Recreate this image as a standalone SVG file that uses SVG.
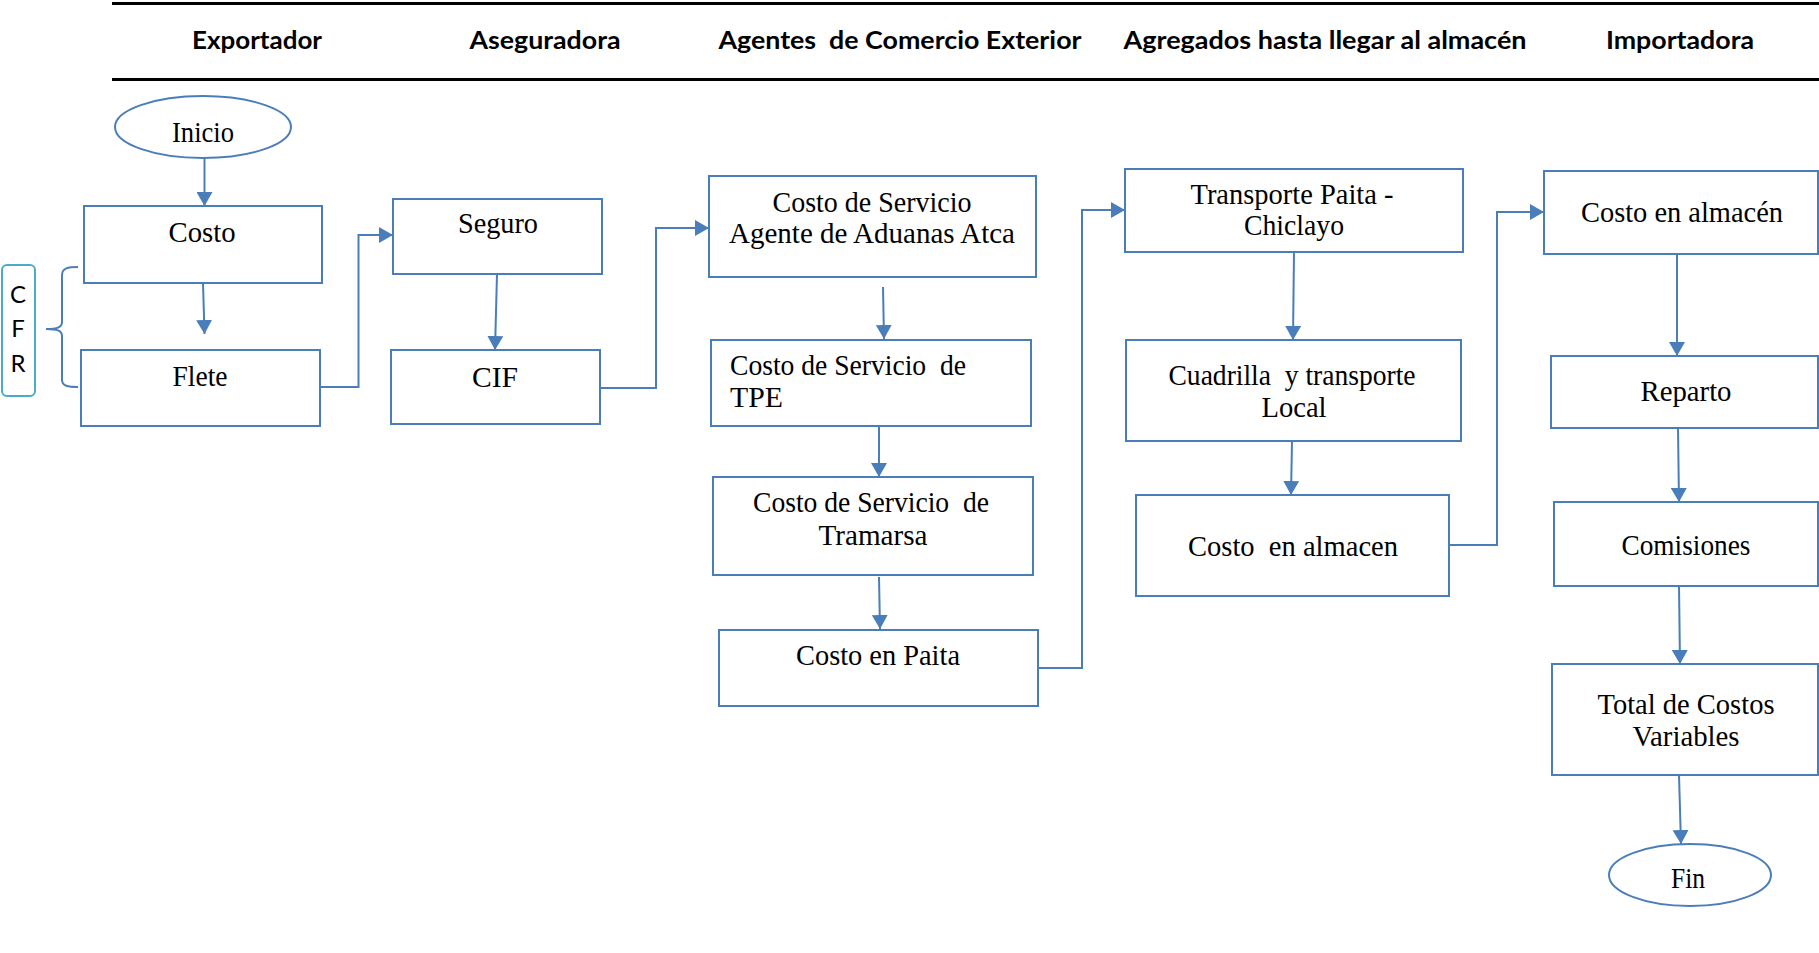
<svg xmlns="http://www.w3.org/2000/svg" width="1819" height="953" viewBox="0 0 1819 953">
  <style>
    .box { fill: #ffffff; stroke: #4a7ebb; stroke-width: 2; }
    .oval { fill: #ffffff; stroke: #4a7ebb; stroke-width: 2; }
    .conn { fill: none; stroke: #4a7ebb; stroke-width: 2; }
    .lbl { font-family: "Liberation Serif", "Times New Roman", serif; font-size: 30px; fill: #000000; text-anchor: middle; white-space: pre; }
    .lbl-left { text-anchor: start; }
    .head { font-family: Lato, "Open Sans", "Liberation Sans", sans-serif; font-weight: 700; font-size: 25px; fill: #000000; text-anchor: middle; white-space: pre; }
    .cfr { font-family: Lato, "Liberation Sans", sans-serif; font-size: 24px; fill: #000000; text-anchor: middle; }
    .rule { stroke: #000000; stroke-width: 3; }
  </style>
  <defs>
    <marker id="arrow" markerUnits="userSpaceOnUse" markerWidth="16" markerHeight="16" refX="14" refY="8" orient="auto">
      <path d="M0,0 L14,8 L0,16 z" fill="#4a7ebb"/>
    </marker>
  </defs>

  <rect width="1819" height="953" fill="#ffffff"/>

  <!-- column header band -->
  <g id="header">
    <line class="rule" x1="112" y1="3.5" x2="1819" y2="3.5"/>
    <line class="rule" x1="112" y1="79.5" x2="1819" y2="79.5"/>
    <text class="head" x="257" y="49" textLength="130" lengthAdjust="spacingAndGlyphs">Exportador</text>
    <text class="head" x="545" y="49" textLength="151" lengthAdjust="spacingAndGlyphs">Aseguradora</text>
    <text class="head" x="900" y="49" textLength="363" lengthAdjust="spacingAndGlyphs" xml:space="preserve">Agentes  de Comercio Exterior</text>
    <text class="head" x="1325" y="49" textLength="403" lengthAdjust="spacingAndGlyphs">Agregados hasta llegar al almacén</text>
    <text class="head" x="1680" y="49" textLength="148" lengthAdjust="spacingAndGlyphs">Importadora</text>
  </g>

  <!-- CFR grouping label and brace -->
  <g id="cfr">
    <rect x="2" y="265" width="33" height="131" rx="5" fill="none" stroke="#4bacc6" stroke-width="2"/>
    <text class="cfr" x="18" y="303">C</text>
    <text class="cfr" x="18" y="337">F</text>
    <text class="cfr" x="18" y="372">R</text>
    <path class="conn" d="M78,267 C68,267 62,268 62,275 L62,322 C62,327 58,329 46,329 C58,329 62,331 62,336 L62,380 C62,386 68,387 78,387"/>
  </g>

  <!-- connectors -->
  <g id="connectors">
    <path class="conn" d="M204.5,158 L204.5,206" marker-end="url(#arrow)"/>
    <path class="conn" d="M203,283 L204.5,334" marker-end="url(#arrow)"/>
    <path class="conn" d="M320,387 H358.5 V235 H393" marker-end="url(#arrow)"/>
    <path class="conn" d="M497,274 L495,350" marker-end="url(#arrow)"/>
    <path class="conn" d="M600,388 H656 V228 H709" marker-end="url(#arrow)"/>
    <path class="conn" d="M883,287 L884,339" marker-end="url(#arrow)"/>
    <path class="conn" d="M879,426 L879,477" marker-end="url(#arrow)"/>
    <path class="conn" d="M879,577 L880,629" marker-end="url(#arrow)"/>
    <path class="conn" d="M1038,668 H1082 V210 H1125" marker-end="url(#arrow)"/>
    <path class="conn" d="M1294,252 L1293,340" marker-end="url(#arrow)"/>
    <path class="conn" d="M1292,441 L1291,495" marker-end="url(#arrow)"/>
    <path class="conn" d="M1449,545 H1497 V212 H1544" marker-end="url(#arrow)"/>
    <path class="conn" d="M1677,254 L1677,356" marker-end="url(#arrow)"/>
    <path class="conn" d="M1678,428 L1679,502" marker-end="url(#arrow)"/>
    <path class="conn" d="M1679,586 L1680,664" marker-end="url(#arrow)"/>
    <path class="conn" d="M1679,775 L1681,844" marker-end="url(#arrow)"/>
  </g>

  <!-- Exportador -->
  <g id="inicio">
    <ellipse class="oval" cx="203" cy="127" rx="88" ry="31"/>
    <text class="lbl" x="203" y="142" textLength="62" lengthAdjust="spacingAndGlyphs">Inicio</text>
  </g>
  <g id="costo">
    <rect class="box" x="84" y="206" width="238" height="77"/>
    <text class="lbl" x="202" y="242" textLength="67" lengthAdjust="spacingAndGlyphs">Costo</text>
  </g>
  <g id="flete">
    <rect class="box" x="81" y="350" width="239" height="76"/>
    <text class="lbl" x="200" y="386" textLength="55" lengthAdjust="spacingAndGlyphs">Flete</text>
  </g>

  <!-- Aseguradora -->
  <g id="seguro">
    <rect class="box" x="393" y="199" width="209" height="75"/>
    <text class="lbl" x="498" y="233" textLength="80" lengthAdjust="spacingAndGlyphs">Seguro</text>
  </g>
  <g id="cif">
    <rect class="box" x="391" y="350" width="209" height="74"/>
    <text class="lbl" x="495" y="387" textLength="46" lengthAdjust="spacingAndGlyphs">CIF</text>
  </g>

  <!-- Agentes de Comercio Exterior -->
  <g id="agente-aduanas">
    <rect class="box" x="709" y="176" width="327" height="101"/>
    <text class="lbl" x="872" y="212" textLength="199" lengthAdjust="spacingAndGlyphs">Costo de Servicio</text>
    <text class="lbl" x="872" y="243" textLength="286" lengthAdjust="spacingAndGlyphs">Agente de Aduanas Atca</text>
  </g>
  <g id="tpe">
    <rect class="box" x="711" y="340" width="320" height="86"/>
    <text class="lbl lbl-left" x="730" y="375" textLength="236" lengthAdjust="spacingAndGlyphs" xml:space="preserve">Costo de Servicio  de</text>
    <text class="lbl lbl-left" x="730" y="407" textLength="53" lengthAdjust="spacingAndGlyphs">TPE</text>
  </g>
  <g id="tramarsa">
    <rect class="box" x="713" y="477" width="320" height="98"/>
    <text class="lbl" x="871" y="512" textLength="236" lengthAdjust="spacingAndGlyphs" xml:space="preserve">Costo de Servicio  de</text>
    <text class="lbl" x="873" y="545" textLength="109" lengthAdjust="spacingAndGlyphs">Tramarsa</text>
  </g>
  <g id="costo-paita">
    <rect class="box" x="719" y="630" width="319" height="76"/>
    <text class="lbl" x="878" y="665" textLength="164" lengthAdjust="spacingAndGlyphs">Costo en Paita</text>
  </g>

  <!-- Agregados hasta llegar al almacén -->
  <g id="transporte">
    <rect class="box" x="1125" y="169" width="338" height="83"/>
    <text class="lbl" x="1292" y="204" textLength="203" lengthAdjust="spacingAndGlyphs">Transporte Paita -</text>
    <text class="lbl" x="1294" y="235" textLength="100" lengthAdjust="spacingAndGlyphs">Chiclayo</text>
  </g>
  <g id="cuadrilla">
    <rect class="box" x="1126" y="340" width="335" height="101"/>
    <text class="lbl" x="1292" y="385" textLength="247" lengthAdjust="spacingAndGlyphs" xml:space="preserve">Cuadrilla  y transporte</text>
    <text class="lbl" x="1294" y="417" textLength="65" lengthAdjust="spacingAndGlyphs">Local</text>
  </g>
  <g id="almacen-local">
    <rect class="box" x="1136" y="495" width="313" height="101"/>
    <text class="lbl" x="1293" y="556" textLength="210" lengthAdjust="spacingAndGlyphs" xml:space="preserve">Costo  en almacen</text>
  </g>

  <!-- Importadora -->
  <g id="costo-almacen">
    <rect class="box" x="1544" y="171" width="274" height="83"/>
    <text class="lbl" x="1682" y="222" textLength="202" lengthAdjust="spacingAndGlyphs">Costo en almacén</text>
  </g>
  <g id="reparto">
    <rect class="box" x="1551" y="356" width="267" height="72"/>
    <text class="lbl" x="1686" y="401" textLength="91" lengthAdjust="spacingAndGlyphs">Reparto</text>
  </g>
  <g id="comisiones">
    <rect class="box" x="1554" y="502" width="264" height="84"/>
    <text class="lbl" x="1686" y="555" textLength="129" lengthAdjust="spacingAndGlyphs">Comisiones</text>
  </g>
  <g id="total">
    <rect class="box" x="1552" y="664" width="266" height="111"/>
    <text class="lbl" x="1686" y="714" textLength="177" lengthAdjust="spacingAndGlyphs">Total de Costos</text>
    <text class="lbl" x="1686" y="746" textLength="107" lengthAdjust="spacingAndGlyphs">Variables</text>
  </g>
  <g id="fin">
    <ellipse class="oval" cx="1690" cy="875" rx="81" ry="31"/>
    <text class="lbl" x="1688" y="888" textLength="34" lengthAdjust="spacingAndGlyphs">Fin</text>
  </g>
</svg>
